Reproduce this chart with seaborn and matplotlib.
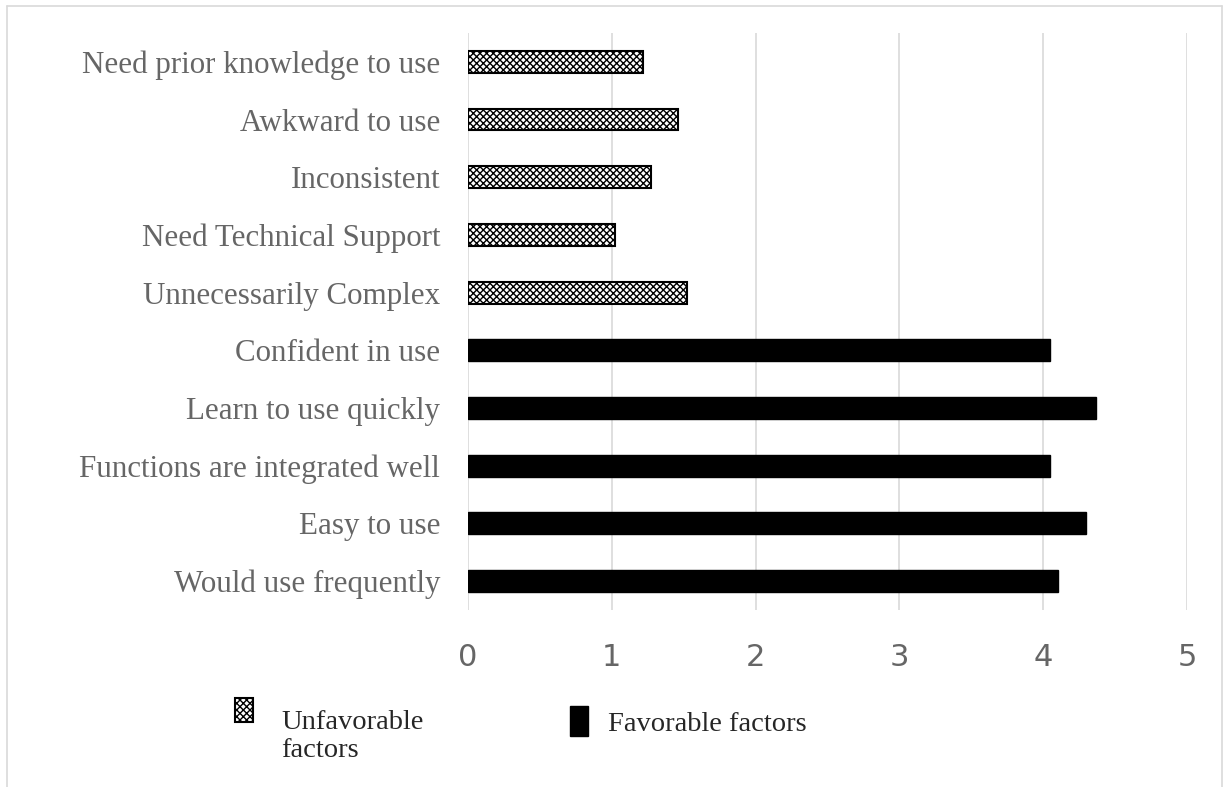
import matplotlib
matplotlib.use("Agg")
import matplotlib.pyplot as plt
from matplotlib.patches import Patch, Rectangle
from matplotlib.lines import Line2D
from matplotlib.legend_handler import HandlerPatch
import seaborn as sns
import pandas as pd

# Mean ratings per usability item (top to bottom)
categories = [
    "Need prior knowledge to use",
    "Awkward to use",
    "Inconsistent",
    "Need Technical Support",
    "Unnecessarily Complex",
    "Confident in use",
    "Learn to use quickly",
    "Functions are integrated well",
    "Easy to use",
    "Would use frequently",
]
scores = [1.22, 1.46, 1.27, 1.02, 1.52, 4.05, 4.37, 4.05, 4.30, 4.10]
groups = ["Unfavorable factors"] * 5 + ["Favorable factors"] * 5
x_ticks = [0, 1, 2, 3, 4, 5]

df = pd.DataFrame({"item": categories, "score": scores, "group": groups})

sns.set_style("white")
plt.rcParams["hatch.linewidth"] = 1.0

fig = plt.figure(figsize=(12.26, 7.87), dpi=100)
ax = fig.add_axes([0.3817, 0.2249, 0.5865, 0.7332])

sns.barplot(data=df, y="item", x="score", orient="h", ax=ax,
            color="black", width=0.38, order=categories)

for patch, grp in zip(ax.patches, groups):
    if grp == "Unfavorable factors":
        patch.set_facecolor("white")
        patch.set_edgecolor("black")
        patch.set_hatch("xxxxx")
        patch.set_linewidth(1.5)
    else:
        patch.set_facecolor("black")
        patch.set_edgecolor("black")

ax.set_xlim(0, 5)
ax.set_xticks(x_ticks)
ax.set_xticklabels([str(t) for t in x_ticks],
                   family=["Liberation Sans Narrow", "DejaVu Sans"],
                   fontsize=22, color="#666666")
ax.set_yticklabels(categories, family="Liberation Serif", fontsize=22.3,
                   color="#666666")
ax.tick_params(axis="x", length=0, pad=24)
ax.tick_params(axis="y", length=0, pad=20)
ax.set_xlabel("")
ax.set_ylabel("")
ax.grid(axis="x", color="#d9d9d9", linewidth=1.2)
ax.set_axisbelow(True)
for s in ax.spines.values():
    s.set_visible(False)


def raised_patch(legend, orig_handle, xdescent, ydescent, width, height,
                 fontsize):
    # keep the swatch level with the first line of a two-line label
    return Rectangle((-xdescent, -ydescent + 19), width, height)


# Legend entries
unfav = Patch(facecolor="white", edgecolor="black", hatch="xxxxx",
              linewidth=1.5, label="Unfavorable\nfactors")
fav = Patch(facecolor="black", edgecolor="black", label="Favorable factors")
fig.legend(handles=[unfav], loc="upper left",
           bbox_to_anchor=(0.171, 0.131), frameon=False,
           handlelength=0.62, handleheight=0.9, handletextpad=1.0,
           handler_map={unfav: HandlerPatch(patch_func=raised_patch)},
           prop={"family": "Liberation Serif", "size": 20.5})
fig.legend(handles=[fav], loc="upper left",
           bbox_to_anchor=(0.444, 0.135), frameon=False,
           handlelength=0.62, handleheight=1.2, handletextpad=0.7,
           prop={"family": "Liberation Serif", "size": 20.5})

# Light frame around the figure
frame_kw = dict(color="#d9d9d9", linewidth=1.2, transform=fig.transFigure)
fig.add_artist(Line2D([0.006, 0.006], [0.0, 0.992], **frame_kw))
fig.add_artist(Line2D([0.006, 0.997], [0.992, 0.992], **frame_kw))
fig.add_artist(Line2D([0.997, 0.997], [0.0, 0.992], **frame_kw))

fig.savefig("out.png", dpi=100)
